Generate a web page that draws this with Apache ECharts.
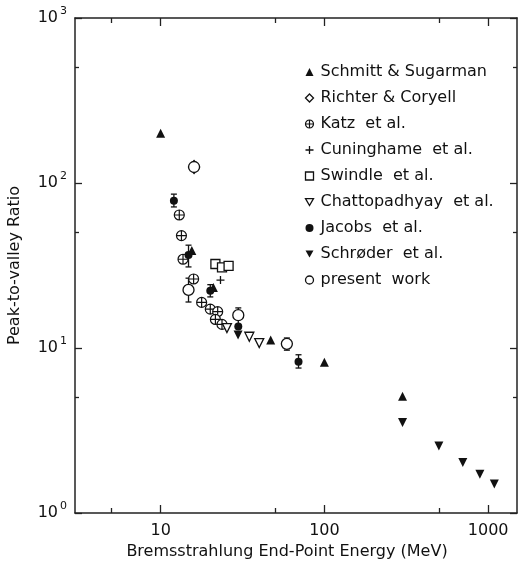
<!DOCTYPE html>
<html>
<head>
<meta charset="utf-8">
<script src="https://cdn.jsdelivr.net/npm/echarts@6/dist/echarts.min.js"></script>
<style>html,body{margin:0;padding:0;background:#fff}#c{width:520px;height:564px}</style>
</head>
<body>
<div id="c"></div>
<script>
// ---- data ----
const seriesNames = ['Schmitt & Sugarman','Richter & Coryell','Katz  et al.','Cuninghame  et al.','Swindle  et al.','Chattopadhyay  et al.','Jacobs  et al.','Schrøder  et al.','present  work'];
const xTicks = [10, 100, 1000];
const xMinorTicks = [5, 50, 500];
const yTicks = [1, 10, 100, 1000];
const yMinorTicks = [5, 50, 500];

const schmittX = [10, 15.5, 21, 47, 100, 300];
const schmittY = [200, 39, 23.3, 11.2, 8.2, 5.1];
const richterX = [16];
const richterY = [125];
const katzX = [13.0, 13.4, 13.7, 15.9, 17.8, 20.1, 22.3, 21.6, 23.7];
const katzY = [64, 48, 34.5, 26.2, 18.9, 17.2, 16.6, 14.9, 13.9];
const cuningX = [23.2];
const cuningY = [25.8];
const swindleX = [21.6, 23.7, 26.0];
const swindleY = [32.3, 30.8, 31.5];
const chattoX = [25.4, 34.8, 40.0];
const chattoY = [13.2, 11.7, 10.7];
const jacobsX = [12.05, 14.8, 20.1, 29.8, 69.5];
const jacobsY = [78, 36.6, 22.2, 13.5, 8.26];
const jacobsLo = [71.6, 31, 20.4, null, 7.56];
const jacobsHi = [85.6, 42, 24.2, null, 9.1];
const schroderX = [29.7, 300, 500, 700, 890, 1090];
const schroderY = [12.0, 3.53, 2.55, 2.02, 1.72, 1.50];
const presentX = [16, 14.8, 29.8, 59];
const presentY = [125, 22.5, 15.8, 10.6];
const presentLo = [null, 19.0, 13.8, 9.7];
const presentHi = [null, 26.5, 17.5, 11.5];

// ---- build ----
const zip = (xs, ys) => xs.map((x, i) => [x, ys[i]]);
const errData = [];
jacobsX.forEach((x, i) => { if (jacobsLo[i] != null) errData.push([x, jacobsLo[i], jacobsHi[i]]); });
presentX.forEach((x, i) => { if (presentLo[i] != null) errData.push([x, presentLo[i], presentHi[i]]); });

const FONT = 'DejaVu Sans';
const INK = '#111';

const filled = { color: INK, borderWidth: 0, opacity: 1 };
const hollow = { color: '#fff', borderColor: INK, borderWidth: 1.3, opacity: 1 };

const katzPath = 'path://M-5,0 A5,5 0 1,1 5,0 A5,5 0 1,1 -5,0 Z M0,-5 L0,5 M-5,0 L5,0';
const plusPath = 'path://M0,-5 L0,5 M-5,0 L5,0';
const downTri = 'path://M-5,-4.33 L5,-4.33 L0,4.33 Z';

const specs = [
  { symbol: 'triangle', size: 9, style: filled, data: zip(schmittX, schmittY) },
  { symbol: 'diamond', size: [11, 13], style: hollow, data: zip(richterX, richterY) },
  { symbol: katzPath, size: 10, style: { color: '#fff', borderColor: INK, borderWidth: 1.2, opacity: 1 }, data: zip(katzX, katzY) },
  { symbol: plusPath, size: 8, style: { color: 'none', borderColor: INK, borderWidth: 1.3, opacity: 1 }, data: zip(cuningX, cuningY) },
  { symbol: 'rect', size: 9, style: hollow, data: zip(swindleX, swindleY) },
  { symbol: downTri, size: 9, style: hollow, data: zip(chattoX, chattoY) },
  { symbol: 'circle', size: 8, style: filled, data: zip(jacobsX, jacobsY) },
  { symbol: downTri, size: 9, style: filled, data: zip(schroderX, schroderY) },
  { symbol: 'circle', size: 11, style: hollow, data: zip(presentX, presentY) }
];

function axisBase(extra) {
  return Object.assign({
    type: 'log', logBase: 10,
    splitLine: { show: false }, minorTick: { show: false }, minorSplitLine: { show: false },
    axisLine: { show: false }, axisLabel: { show: false }, axisTick: { show: false }
  }, extra);
}
const axLine = { show: true, lineStyle: { color: '#222', width: 1.5 } };
const tickStyle = { color: '#222', width: 1.3 };

const xAxes = [
  axisBase({ min: 3, max: 1500, position: 'bottom', axisLine: axLine,
    axisTick: { show: true, inside: true, length: 8, customValues: xTicks, lineStyle: tickStyle },
    axisLabel: { show: true, customValues: xTicks, margin: 10, fontFamily: FONT, fontSize: 16, color: INK,
      formatter: v => String(Math.round(v)) },
    name: 'Bremsstrahlung End-Point Energy (MeV)', nameLocation: 'middle', nameGap: 30,
    nameTextStyle: { fontFamily: FONT, fontSize: 16, color: INK, padding: [0, 18, 0, 0] } }),
  axisBase({ min: 3, max: 1500, position: 'bottom',
    axisTick: { show: true, inside: true, length: 5, customValues: xMinorTicks, lineStyle: tickStyle } }),
  axisBase({ min: 3, max: 1500, position: 'top', axisLine: axLine,
    axisTick: { show: true, inside: true, length: 8, customValues: xTicks, lineStyle: tickStyle } }),
  axisBase({ min: 3, max: 1500, position: 'top',
    axisTick: { show: true, inside: true, length: 5, customValues: xMinorTicks, lineStyle: tickStyle } })
];
const yAxes = [
  axisBase({ min: 1, max: 1000, position: 'left', axisLine: axLine,
    axisTick: { show: true, inside: true, length: 7, customValues: yTicks, lineStyle: tickStyle },
    axisLabel: { show: true, customValues: yTicks, margin: 8, color: INK,
      formatter: v => '{b|10}{s|' + Math.round(Math.log10(v)) + '}',
      rich: {
        b: { fontFamily: FONT, fontSize: 16, color: INK, lineHeight: 24, verticalAlign: 'middle' },
        s: { fontFamily: FONT, fontSize: 11, color: INK, lineHeight: 12, verticalAlign: 'top', padding: [0, 0, 0, 2] }
      } },
    name: 'Peak-to-valley Ratio', nameLocation: 'middle', nameGap: 52,
    nameTextStyle: { fontFamily: FONT, fontSize: 16, color: INK } }),
  axisBase({ min: 1, max: 1000, position: 'left',
    axisTick: { show: true, inside: true, length: 4, customValues: yMinorTicks, lineStyle: tickStyle } }),
  axisBase({ min: 1, max: 1000, position: 'right', axisLine: axLine,
    axisTick: { show: true, inside: true, length: 7, customValues: yTicks, lineStyle: tickStyle } }),
  axisBase({ min: 1, max: 1000, position: 'right',
    axisTick: { show: true, inside: true, length: 4, customValues: yMinorTicks, lineStyle: tickStyle } })
];

const errSeries = {
  type: 'custom', name: 'err', data: errData, z: 3, silent: true,
  renderItem: function (params, api) {
    const x = api.value(0);
    const p1 = api.coord([x, api.value(1)]);
    const p2 = api.coord([x, api.value(2)]);
    const c = 3;
    const st = { stroke: INK, lineWidth: 1.3 };
    return {
      type: 'group',
      children: [
        { type: 'line', shape: { x1: p1[0], y1: p1[1], x2: p2[0], y2: p2[1] }, style: st },
        { type: 'line', shape: { x1: p1[0] - c, y1: p1[1], x2: p1[0] + c, y2: p1[1] }, style: st },
        { type: 'line', shape: { x1: p2[0] - c, y1: p2[1], x2: p2[0] + c, y2: p2[1] }, style: st }
      ]
    };
  }
};

const series = [errSeries].concat(specs.map((s, i) => ({
  name: seriesNames[i], type: 'scatter', data: s.data, symbol: s.symbol, symbolSize: s.size,
  itemStyle: s.style, z: 5, emphasis: { disabled: true }
})));

const legendData = specs.map((s, i) => ({
  name: seriesNames[i], icon: s.symbol, itemStyle: Object.assign({}, s.style)
}));

const chart = echarts.init(document.getElementById('c'), null, { renderer: 'canvas' });
chart.setOption({
  backgroundColor: '#fff',
  animation: false,
  grid: { left: 75, right: 3, top: 18, bottom: 51, containLabel: false, outerBoundsMode: 'none' },
  xAxis: xAxes,
  yAxis: yAxes,
  legend: {
    data: legendData, orient: 'vertical', left: 298, top: 59,
    itemWidth: 8, itemHeight: 8, itemGap: 10,
    textStyle: { fontFamily: FONT, fontSize: 16, color: INK, padding: [0, 0, 0, 2] },
    selectedMode: false
  },
  series: series
});
</script>
</body>
</html>
